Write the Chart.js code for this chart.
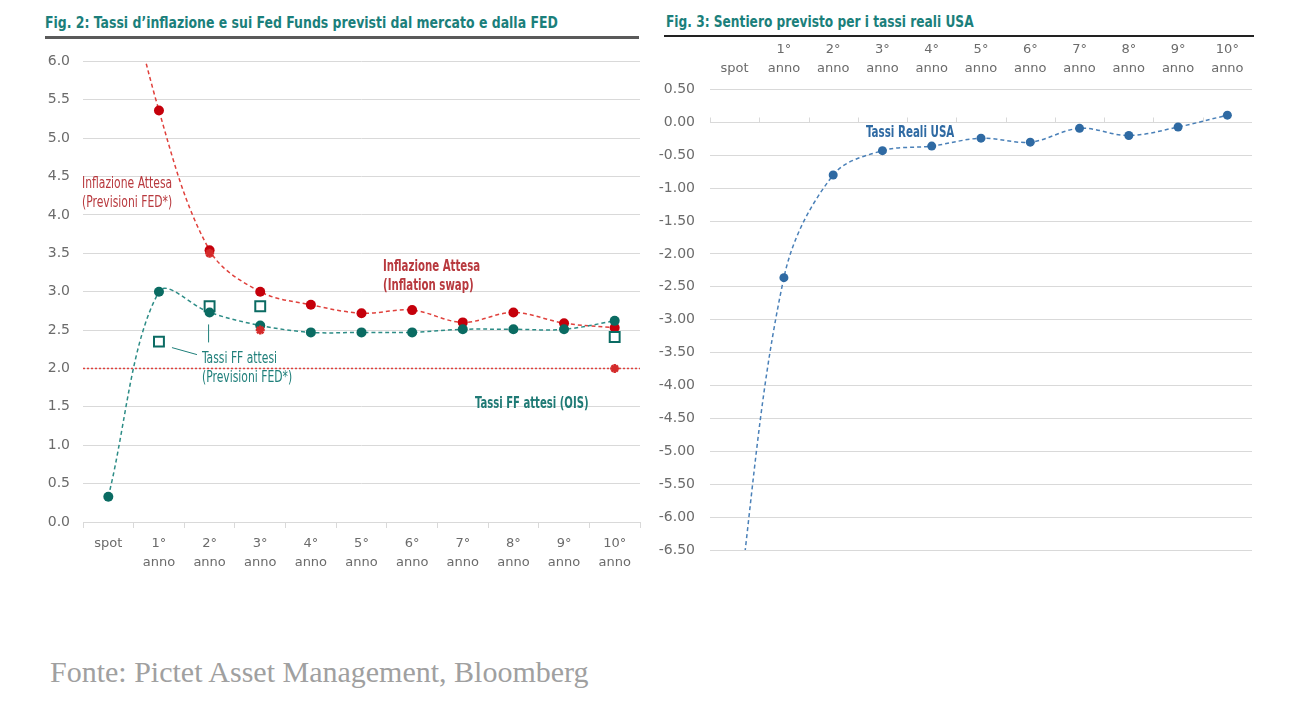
<!DOCTYPE html>
<html>
<head>
<meta charset="utf-8">
<script src="https://cdn.jsdelivr.net/npm/chart.js@4.4.1/dist/chart.umd.min.js"></script>
<style>
  body { margin: 0; background: #fff; width: 1306px; height: 704px; position: relative; overflow: hidden;
         font-family: "Liberation Sans Narrow", "DejaVu Sans Condensed", sans-serif; }
  canvas { position: absolute; }
  .title { position: absolute; font-weight: bold; font-size: 15px; line-height: 20px; color: #1b7f7b; white-space: nowrap;
           transform-origin: left center; }
  .rule { position: absolute; }
  .note { position: absolute; font-size: 15px; line-height: 19px; white-space: nowrap; transform-origin: left top; }
  .source { position: absolute; left: 50px; top: 657px; font-family: "Liberation Serif", serif; font-size: 30px; line-height: 30px;
            color: #a0a0a0; white-space: nowrap; }
</style>
</head>
<body>
<div class="title" style="left:45px; top:13px; transform:scaleX(0.925);">Fig. 2: Tassi d’inflazione e sui Fed Funds previsti dal mercato e dalla FED</div>
<div class="rule" style="left:45px; top:36px; width:594px; height:3px; background:#5a5a5a;"></div>
<div class="title" style="left:666px; top:12px; transform:scaleX(0.905);">Fig. 3: Sentiero previsto per i tassi reali USA</div>
<div class="rule" style="left:664px; top:35px; width:590px; height:2px; background:#222;"></div>

<canvas id="leftChart" width="650" height="540" style="left:0; top:40px;"></canvas>
<canvas id="rightChart" width="656" height="540" style="left:650px; top:40px;"></canvas>

<div class="note" style="left:82px; top:174px; color:#b8393e; transform:scaleX(0.80);">Inflazione Attesa<br>(Previsioni FED*)</div>
<div class="note" style="left:383px; top:257px; color:#b8393e; font-weight:bold; transform:scaleX(0.756);">Inflazione Attesa<br>(Inflation swap)</div>
<div class="note" style="left:202px; top:349px; color:#1f7f7a; transform:scaleX(0.80);">Tassi FF attesi<br>(Previsioni FED*)</div>
<div class="note" style="left:475px; top:394px; color:#1f7a75; font-weight:bold; transform:scaleX(0.747);">Tassi FF attesi (OIS)</div>
<div class="note" style="left:866px; top:123px; color:#2f6aa3; font-weight:bold; transform:scaleX(0.765);">Tassi Reali USA</div>

<div class="source">Fonte: Pictet Asset Management, Bloomberg</div>

<script>
// Categories and values
const yearTicks = ['1°', '2°', '3°', '4°', '5°', '6°', '7°', '8°', '9°', '10°'];
const swapInflation = [8.1, 5.36, 3.54, 3.00, 2.83, 2.72, 2.76, 2.60, 2.73, 2.59, 2.53];
const fedInflation = [null, null, 3.50, 2.50, null, null, null, null, null, null, 2.00];
const oisFedFunds = [0.33, 3.00, 2.73, 2.56, 2.47, 2.47, 2.47, 2.51, 2.51, 2.51, 2.62];
const fedFedFunds = [null, 2.35, 2.81, 2.81, null, null, null, null, null, null, 2.41];
const inflationTarget = 2.0;
const realRates = [-7.8, -2.36, -0.80, -0.43, -0.36, -0.24, -0.30, -0.09, -0.20, -0.07, 0.11];

const leftLabels = ['spot', ...yearTicks.map(t => [t, 'anno'])];
const rightLabels = [['', 'spot'], ...yearTicks.map(t => [t, 'anno'])];

const tickColor = '#6b6b6b';
const gridColor = '#d9d9d9';

// Dotted target line + leader lines for the left chart
const leftExtras = {
    id: 'leftExtras',
    beforeDatasetsDraw(chart) {
        const { ctx, chartArea, scales: { y } } = chart;
        ctx.save();
        ctx.strokeStyle = '#e0413c';
        ctx.lineWidth = 1.5;
        ctx.setLineDash([2, 2]);
        const ty = y.getPixelForValue(inflationTarget);
        ctx.beginPath();
        ctx.moveTo(chartArea.left, ty);
        ctx.lineTo(chartArea.right, ty);
        ctx.stroke();
        ctx.restore();
    },
    afterDatasetsDraw(chart) {
        const { ctx, scales: { x, y } } = chart;
        ctx.save();
        ctx.strokeStyle = '#1f7f7a';
        ctx.lineWidth = 1;
        // from the 1° square to the label
        const x1 = x.getPixelForValue(1), y1 = y.getPixelForValue(fedFedFunds[1]);
        ctx.beginPath();
        ctx.moveTo(x1 + 13, y1 + 6);
        ctx.lineTo(x1 + 38, y1 + 13);
        ctx.stroke();
        // vertical tick under the 2° point
        const x2 = x.getPixelForValue(2), y2 = y.getPixelForValue(oisFedFunds[2]);
        ctx.beginPath();
        ctx.moveTo(x2 - 1, y2 + 12);
        ctx.lineTo(x2 - 1, y2 + 30);
        ctx.stroke();
        ctx.restore();
    }
};

// Zero line with small tick marks for the right chart
const zeroAxis = {
    id: 'zeroAxis',
    beforeDatasetsDraw(chart) {
        const { ctx, chartArea, scales: { x, y } } = chart;
        const zy = Math.round(y.getPixelForValue(0)) + 0.5;
        const half = (x.getPixelForValue(1) - x.getPixelForValue(0)) / 2;
        ctx.save();
        ctx.strokeStyle = gridColor;
        ctx.lineWidth = 1;
        ctx.beginPath();
        ctx.moveTo(chartArea.left, zy);
        ctx.lineTo(chartArea.right, zy);
        for (let i = 0; i < rightLabels.length; i++) {
            const bx = Math.round(x.getPixelForValue(i) - half) + 0.5;
            ctx.moveTo(bx, zy);
            ctx.lineTo(bx, zy - 5);
        }
        ctx.stroke();
        ctx.restore();
    }
};

new Chart(document.getElementById('leftChart'), {
    type: 'line',
    data: {
        labels: leftLabels,
        datasets: [
            {
                label: 'Inflazione Attesa (Previsioni FED*)',
                data: fedInflation,
                showLine: false,
                pointStyle: 'star',
                pointRadius: 4.5,
                borderWidth: 2.5,
                borderColor: '#d42a2a',
                backgroundColor: '#d42a2a'
            },
            {
                label: 'Tassi FF attesi (OIS)',
                data: oisFedFunds,
                borderColor: '#2c8c86',
                borderWidth: 1.5,
                borderDash: [4, 3],
                tension: 0.35,
                pointRadius: 5,
                pointBackgroundColor: '#0a6b62',
                pointBorderWidth: 0
            },
            {
                label: 'Tassi FF attesi (Previsioni FED*)',
                data: fedFedFunds,
                showLine: false,
                pointStyle: 'rect',
                pointRadius: 7,
                borderWidth: 2,
                borderColor: '#0b6b63',
                backgroundColor: '#ffffff'
            },
            {
                label: 'Inflazione Attesa (Inflation swap)',
                data: swapInflation,
                borderColor: '#e0413c',
                borderWidth: 1.5,
                borderDash: [4, 3],
                tension: 0.35,
                pointRadius: 5,
                pointBackgroundColor: '#c5000b',
                pointBorderWidth: 0
            }
        ]
    },
    options: {
        responsive: false,
        animation: false,
        layout: { padding: { top: 19, right: 10, bottom: 8, left: 0 } },
        plugins: { legend: { display: false }, tooltip: { enabled: false } },
        scales: {
            x: {
                offset: true,
                afterFit(scale) { scale.height = 50; },
                grid: { drawOnChartArea: false, drawTicks: true, tickLength: 6, color: gridColor, offset: true },
                border: { display: true, color: gridColor },
                ticks: { color: tickColor, padding: 6, maxRotation: 0, autoSkip: false,
                         font: { family: 'DejaVu Sans', size: 13, lineHeight: 1.46 } }
            },
            y: {
                min: 0,
                max: 6,
                afterFit(scale) { scale.width = 83; },
                grid: { color: gridColor, drawTicks: false },
                border: { display: false },
                ticks: { stepSize: 0.5, padding: 13, color: tickColor,
                         font: { family: 'DejaVu Sans', size: 14 },
                         callback: v => v.toFixed(1) }
            }
        }
    },
    plugins: [leftExtras]
});

new Chart(document.getElementById('rightChart'), {
    type: 'line',
    data: {
        labels: rightLabels,
        datasets: [{
            label: 'Tassi Reali USA',
            data: realRates,
            borderColor: '#4a80b8',
            borderWidth: 1.5,
            borderDash: [4, 3],
            tension: 0.35,
            pointRadius: 4.5,
            pointBackgroundColor: '#2f6aa3',
            pointBorderWidth: 0
        }]
    },
    options: {
        responsive: false,
        animation: false,
        layout: { padding: { top: 0, right: 54, bottom: 30, left: 0 } },
        plugins: { legend: { display: false }, tooltip: { enabled: false } },
        scales: {
            x: {
                position: 'top',
                offset: true,
                afterFit(scale) { scale.height = 49.5; },
                grid: { display: false, drawTicks: false },
                border: { display: false },
                ticks: { color: tickColor, padding: 11, maxRotation: 0, autoSkip: false,
                         font: { family: 'DejaVu Sans', size: 13, lineHeight: 1.46 } }
            },
            y: {
                min: -6.5,
                max: 0.5,
                afterFit(scale) { scale.width = 60; },
                grid: { color: gridColor, drawTicks: false },
                border: { display: false },
                ticks: { stepSize: 0.5, padding: 15, color: tickColor,
                         font: { family: 'DejaVu Sans', size: 14 },
                         callback: v => v.toFixed(2) }
            }
        }
    },
    plugins: [zeroAxis]
});
</script>
</body>
</html>
